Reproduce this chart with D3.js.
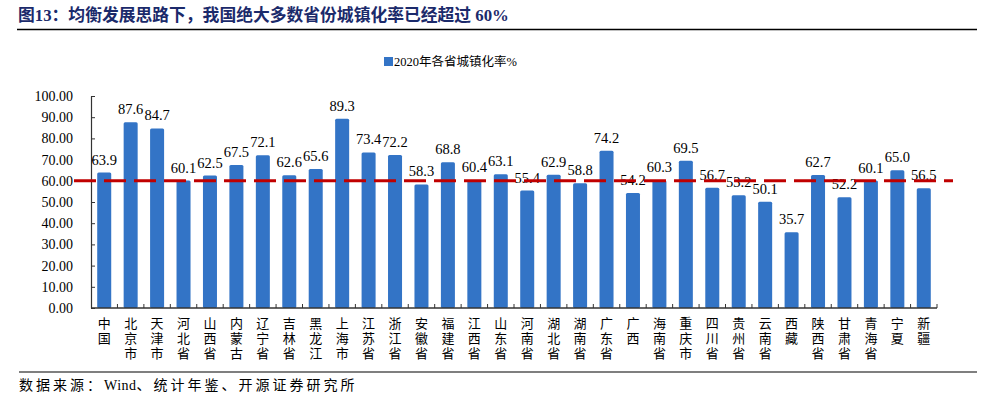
<!DOCTYPE html>
<html><head><meta charset="utf-8">
<script src="https://cdn.jsdelivr.net/npm/d3@7"></script>
<style>
body{margin:0;background:#fff;}
svg text{font-family:"Liberation Serif","Noto Sans CJK SC",serif;}
</style></head>
<body><svg id="c" width="988" height="398"></svg>
<script>
const categories = ["中国","北京市","天津市","河北省","山西省","内蒙古","辽宁省","吉林省","黑龙江","上海市","江苏省","浙江省","安徽省","福建省","江西省","山东省","河南省","湖北省","湖南省","广东省","广西","海南省","重庆市","四川省","贵州省","云南省","西藏","陕西省","甘肃省","青海省","宁夏","新疆"];
const values = [63.9,87.6,84.7,60.1,62.5,67.5,72.1,62.6,65.6,89.3,73.4,72.2,58.3,68.8,60.4,63.1,55.4,62.9,58.8,74.2,54.2,60.3,69.5,56.7,53.2,50.1,35.7,62.7,52.2,60.1,65.0,56.5];
const yTicks = [0,10,20,30,40,50,60,70,80,90,100];
const refValue = 60;
const seriesName = "2020年各省城镇化率%";
const titleText = "图13：均衡发展思路下，我国绝大多数省份城镇化率已经超过 60%";
const sourceText = "数据来源：Wind、统计年鉴、开源证券研究所";

const svg = d3.select("#c");
const mLeft = 91, mRight = 937, mTop = 96, mBottom = 308;
const x = d3.scaleBand().domain(categories).range([mLeft, mRight]).paddingInner(0.47).paddingOuter(0.235);
const xb = d3.scaleBand().domain(categories).range([mLeft, mRight]);
const y = d3.scaleLinear().domain([0, 100]).range([mBottom, mTop]);

// title
svg.append("text").attr("x", 18).attr("y", 21).attr("font-size", 16.8).attr("font-weight", "bold")
  .attr("fill", "#1B2A6B").style("font-family", "'Liberation Serif','Noto Sans CJK SC',serif").text(titleText);
svg.append("line").attr("x1", 17).attr("x2", 977).attr("y1", 29.5).attr("y2", 29.5).attr("stroke", "#000").attr("stroke-width", 1.5);

// legend
svg.append("rect").attr("x", 384).attr("y", 57).attr("width", 9).attr("height", 9).attr("fill", "#3374C6");
svg.append("text").attr("x", 394).attr("y", 66).attr("font-size", 12.5).attr("fill", "#000").text(seriesName);

// bars
svg.append("g").selectAll("rect").data(values).join("rect")
  .attr("x", (d, i) => x(categories[i]))
  .attr("width", x.bandwidth())
  .attr("y", d => y(d))
  .attr("height", d => y(0) - y(d))
  .attr("rx", 1.5)
  .attr("fill", "#3374C6");

// y axis
const yAxis = d3.axisLeft(y).tickValues(yTicks).tickFormat(d3.format(".2f")).tickSizeInner(-4).tickSizeOuter(0).tickPadding(18);
const gy = svg.append("g").attr("transform", `translate(${mLeft},0)`).call(yAxis);
gy.select(".domain").attr("stroke", "#333").attr("stroke-width", 1.2);
gy.selectAll(".tick line").attr("stroke", "#333");
gy.selectAll(".tick text").attr("font-size", 14).attr("fill", "#000")
  .style("font-family", "'Liberation Serif',serif");

// x axis
const gx = svg.append("g").attr("transform", `translate(0,${mBottom})`);
gx.append("line").attr("x1", mLeft).attr("x2", mRight).attr("y1", 0).attr("y2", 0).attr("stroke", "#333").attr("stroke-width", 1.5);
gx.selectAll("line.tk").data(categories).join("line").attr("class", "tk")
  .attr("x1", d => xb(d) + xb.bandwidth()).attr("x2", d => xb(d) + xb.bandwidth())
  .attr("y1", 0).attr("y2", -4).attr("stroke", "#333");
gx.selectAll("text.cat").data(categories).join("text").attr("class", "cat")
  .attr("x", d => xb(d) + xb.bandwidth() / 2)
  .attr("y", 9)
  .attr("font-size", 13).attr("fill", "#000").attr("text-anchor", "start")
  .style("font-family", "'Noto Sans CJK SC',sans-serif")
  .style("writing-mode", "vertical-rl")
  .style("letter-spacing", "2px")
  .text(d => d);

// value labels
svg.append("g").selectAll("text").data(values).join("text")
  .attr("x", (d, i) => x(categories[i]) + x.bandwidth() / 2)
  .attr("y", d => y(d) - 8)
  .attr("text-anchor", "middle").attr("font-size", 14.5).attr("fill", "#000")
  .style("font-family", "'Liberation Serif',serif")
  .text(d => d3.format(".1f")(d));

// reference line
svg.append("line").attr("x1", 74).attr("x2", 953).attr("y1", y(refValue)).attr("y2", y(refValue))
  .attr("stroke", "#C00000").attr("stroke-width", 3).attr("stroke-dasharray", "22,8");

// footer
svg.append("line").attr("x1", 19).attr("x2", 977).attr("y1", 372).attr("y2", 372).attr("stroke", "#000").attr("stroke-width", 1.2);
const src = svg.append("text").attr("x", 19).attr("y", 390).attr("font-size", 14).attr("fill", "#000");
(sourceText.match(/[A-Za-z0-9]+|[^A-Za-z0-9]+/g) || []).forEach(run => {
  const ascii = /^[A-Za-z0-9]+$/.test(run);
  src.append("tspan").style("letter-spacing", ascii ? "0.5px" : "3px").text(run);
});
</script></body></html>
